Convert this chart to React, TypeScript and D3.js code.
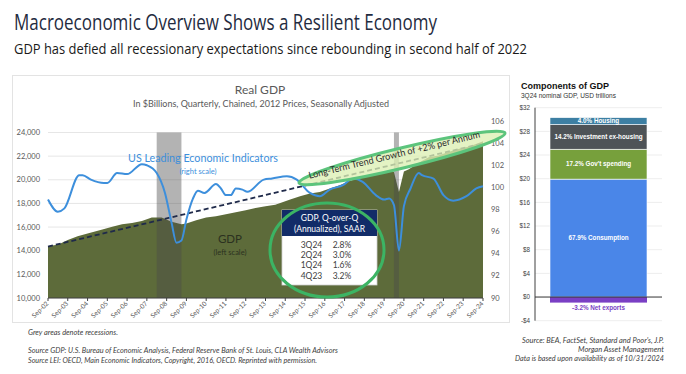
import React from "react";
import * as d3 from "d3";

// ---------- DATA ----------
const gdpDates = ["2002-09","2003-03","2003-09","2004-03","2004-09","2005-06","2005-12","2006-06","2006-12","2007-06","2007-12","2008-06","2008-12","2009-06","2009-09","2010-03","2010-09","2011-03","2011-09","2012-03","2012-09","2013-03","2013-09","2014-03","2014-06","2014-12","2015-06","2015-12","2016-06","2016-12","2017-06","2017-12","2018-06","2018-12","2019-06","2019-12","2020-03","2020-06","2020-09","2020-12","2021-06","2021-12","2022-06","2022-12","2023-06","2023-12","2024-06","2024-09"];
const gdpValues = [14400,14500,14900,15230,15460,15800,16020,16240,16350,16520,16800,16800,16440,16240,16300,16580,16810,16920,17090,17260,17430,17620,17760,17880,18040,18330,18600,18840,18970,19260,19540,19900,20150,20380,20570,20800,20650,18970,20700,20900,21450,21900,22050,22350,22600,22800,23100,23270];

const leiDates = ["2002-09","2003-03","2003-07","2004-04","2004-06","2004-11","2005-07","2005-09","2006-03","2006-09","2007-06","2007-09","2008-03","2008-08","2008-12","2009-03","2009-06","2009-09","2010-01","2010-04","2010-08","2011-03","2011-06","2011-09","2011-12","2012-03","2012-07","2012-10","2013-08","2014-01","2014-10","2015-04","2015-12","2016-06","2016-12","2017-08","2018-02","2018-08","2019-04","2019-09","2019-12","2020-03","2020-06","2020-09","2021-01","2021-06","2021-08","2022-03","2022-09","2023-03","2023-11","2024-05","2024-09"];
const leiValues = [98.9,97.8,98.1,101.1,101.1,100.7,100.4,100.4,101.3,101.2,102.1,102.0,101.3,99.5,96.8,95.0,95.2,97.1,99.0,99.7,99.5,100.3,99.9,99.3,99.3,99.9,99.8,99.6,100.7,100.8,101.0,100.7,99.5,99.2,99.8,100.2,100.8,100.5,99.3,98.9,99.0,98.4,94.3,98.3,99.9,101.3,101.1,100.8,99.3,98.8,99.2,99.9,100.1];

const trendDates = ["2002-09","2024-09"];
const trendValues = [14350, 23080];

const recessionStarts = ["2008-03","2020-03"];
const recessionEnds = ["2009-06","2020-06"];

const xTickLabels = ["Sep-02","Sep-03","Sep-04","Sep-05","Sep-06","Sep-07","Sep-08","Sep-09","Sep-10","Sep-11","Sep-12","Sep-13","Sep-14","Sep-15","Sep-16","Sep-17","Sep-18","Sep-19","Sep-20","Sep-21","Sep-22","Sep-23","Sep-24"];
const leftTicks = [10000,12000,14000,16000,18000,20000,22000,24000];
const rightTicks = [90,92,94,96,98,100,102,104,106];

const tableQuarters = ["3Q24","2Q24","1Q24","4Q23"];
const tableRates = ["2.8%","3.0%","1.6%","3.2%"];

const compLabels = ["67.9% Consumption","17.2% Gov't  spending","14.2% Investment ex-housing","4.0% Housing"];
const compValues = [19.93, 5.05, 4.17, 1.17];
const compColors = ["#4a86e8","#77a03c","#4e5357","#3d7fa3"];
const netExportsLabel = "-3.2% Net exports";
const netExportsValue = -0.94;
const compTicks = [-4,0,4,8,12,16,20,24,28,32];

// ---------- COMPONENT ----------
const parse = d3.timeParse("%Y-%m");

export default function App() {
  const x = d3.scaleTime().domain([parse("2002-09")!, parse("2024-09")!]).range([48, 483]);
  const yL = d3.scaleLinear().domain([10000, 24000]).range([298, 132.5]);
  const yR = d3.scaleLinear().domain([90, 106]).range([298, 121]);

  const gdp = gdpDates.map((d, i) => ({ d: parse(d)!, v: gdpValues[i] }));
  const lei = leiDates.map((d, i) => ({ d: parse(d)!, v: leiValues[i] }));
  const trend = trendDates.map((d, i) => ({ d: parse(d)!, v: trendValues[i] }));

  const area = d3.area<{ d: Date; v: number }>().x(p => x(p.d)).y0(yL(10000)).y1(p => yL(p.v));
  const leiLine = d3.line<{ d: Date; v: number }>().x(p => x(p.d)).y(p => yR(p.v)).curve(d3.curveMonotoneX);
  const trendLine = d3.line<{ d: Date; v: number }>().x(p => x(p.d)).y(p => yL(p.v));

  const xTicks = xTickLabels.map((_, i) => new Date(2002 + i, 8, 1));

  const yB = d3.scaleLinear().domain([-4, 32]).range([320.7, 107.7]);
  let cum = 0;
  const segs = compValues.map((v, i) => {
    const s = { y0: cum, y1: cum + v, label: compLabels[i], color: compColors[i] };
    cum += v;
    return s;
  });

  const fontL = "Lato, 'Open Sans', sans-serif";
  const fontR = "'Liberation Sans', Arial, sans-serif";

  return (
    <svg width={686} height={374} style={{ position: "absolute", left: 0, top: 0, background: "#fff" }}>
      {/* Titles */}
      <text x={14} y={30} fontFamily="'Open Sans', sans-serif" fontSize={21} fill="#1f2b40" textLength={423} lengthAdjust="spacingAndGlyphs">Macroeconomic Overview Shows a Resilient Economy</text>
      <text x={14} y={54} fontFamily="'Open Sans', sans-serif" fontSize={15} fill="#1a1a1a" textLength={513} lengthAdjust="spacingAndGlyphs">GDP has defied all recessionary expectations since rebounding in second half of 2022</text>

      {/* Left panel border */}
      <rect x={12.5} y={75.5} width={497} height={247} fill="none" stroke="#e3e3e3" strokeWidth={1} />

      <text x={260} y={94} textAnchor="middle" fontFamily={fontL} fontSize={12} fill="#595959">Real GDP</text>
      <text x={261} y={107} textAnchor="middle" fontFamily={fontL} fontSize={9} fill="#595959">In $Billions, Quarterly, Chained, 2012 Prices, Seasonally Adjusted</text>

      {/* Gridlines */}
      {leftTicks.map(t => (
        <line key={t} x1={48} x2={483} y1={yL(t)} y2={yL(t)} stroke="#e6e6e6" strokeWidth={1} />
      ))}

      {/* GDP area */}
      <path d={area(gdp)!} fill="#5d6b3a" />

      {/* Recession bands */}
      {recessionStarts.map((s, i) => (
        <rect key={s} x={x(parse(s)!)} y={yL(24000)} width={x(parse(recessionEnds[i])!) - x(parse(s)!)} height={yL(10000) - yL(24000)} fill="#4b4b4b" opacity={0.42} />
      ))}

      {/* Trend dashed */}
      <path d={trendLine(trend)!} fill="none" stroke="#1f2a4a" strokeWidth={1.8} strokeDasharray="5,3" />

      {/* LEI line */}
      <path d={leiLine(lei)!} fill="none" stroke="#3d8fdc" strokeWidth={2} />

      {/* Left axis labels */}
      {leftTicks.map(t => (
        <text key={t} x={40} y={yL(t) + 2.5} textAnchor="end" fontFamily={fontL} fontSize={7.5} fill="#595959">{d3.format(",")(t)}</text>
      ))}
      {/* Right axis labels */}
      {rightTicks.map(t => (
        <text key={t} x={491} y={yR(t) + 2.5} fontFamily={fontL} fontSize={7.5} fill="#595959">{t}</text>
      ))}

      {/* X axis */}
      <line x1={48} x2={483} y1={298} y2={298} stroke="#404040" strokeWidth={1} />
      {xTicks.map((d, i) => (
        <g key={i}>
          <line x1={x(d)} x2={x(d)} y1={298} y2={301} stroke="#404040" strokeWidth={1} />
          <text transform={`translate(${x(d) + 1},${304}) rotate(-45)`} textAnchor="end" fontFamily={fontL} fontSize={6.5} fill="#595959">{xTickLabels[i]}</text>
        </g>
      ))}

      {/* Series labels */}
      <text x={203} y={162} textAnchor="middle" fontFamily={fontL} fontSize={11} fill="#3d8fdc" textLength={150} lengthAdjust="spacingAndGlyphs">US Leading Economic Indicators</text>
      <text x={198} y={173.5} textAnchor="middle" fontFamily={fontL} fontSize={7.5} fill="#3d8fdc">(right scale)</text>
      <text x={230} y={243} textAnchor="middle" fontFamily={fontL} fontSize={11.5} fill="#2b3120">GDP</text>
      <text x={230} y={254.5} textAnchor="middle" fontFamily={fontL} fontSize={7.5} fill="#2b3120">(left scale)</text>

      {/* Trend annotation ellipse */}
      <g transform="translate(402,158) rotate(-13.6)">
        <ellipse cx={0} cy={0} rx={106} ry={10} fill="#dcefb4" fillOpacity={0.78} stroke="#5cc47c" strokeWidth={3} />
      </g>
      <text transform="translate(395,158) rotate(-13.6)" textAnchor="middle" fontFamily={fontL} fontSize={9.5} fill="#2a2a2a" textLength={176} lengthAdjust="spacingAndGlyphs">Long-Term Trend Growth of +2% per Annum</text>

      {/* Table */}
      <rect x={282} y={210} width={95} height={75} fill="#ffffff" stroke="#d0d0d0" strokeWidth={0.8} />
      <rect x={282} y={210} width={95} height={26} fill="#122c68" />
      <text x={329.5} y={221} textAnchor="middle" fontFamily={fontL} fontSize={8.5} fill="#ffffff">GDP, Q-over-Q</text>
      <text x={329.5} y={232} textAnchor="middle" fontFamily={fontL} fontSize={8.5} fill="#ffffff">(Annualized), SAAR</text>
      {tableQuarters.map((q, i) => (
        <g key={q}>
          <text x={311.5} y={248 + i * 10.2} textAnchor="middle" fontFamily={fontL} fontSize={8.5} fill="#404040">{q}</text>
          <text x={342} y={248 + i * 10.2} textAnchor="middle" fontFamily={fontL} fontSize={8.5} fill="#404040">{tableRates[i]}</text>
        </g>
      ))}
      <ellipse cx={327} cy={250} rx={57} ry={47} fill="none" stroke="#3cb464" strokeWidth={3} />

      {/* Left footnotes */}
      <text x={28} y={335} fontFamily={fontL} fontStyle="italic" fontSize={7.5} fill="#404040" textLength={90} lengthAdjust="spacingAndGlyphs">Grey areas denote recessions.</text>
      <text x={28} y={353} fontFamily={fontL} fontStyle="italic" fontSize={6.8} fill="#404040" textLength={310} lengthAdjust="spacingAndGlyphs">Source GDP: U.S. Bureau of Economic Analysis, Federal Reserve Bank of St. Louis, CLA Wealth Advisors</text>
      <text x={28} y={363} fontFamily={fontL} fontStyle="italic" fontSize={6.8} fill="#404040" textLength={289} lengthAdjust="spacingAndGlyphs">Source LEI: OECD, Main Economic Indicators, Copyright, 2016, OECD. Reprinted with permission.</text>

      {/* Right chart */}
      <text x={521} y={89} fontFamily={fontR} fontWeight="bold" fontSize={9} fill="#111">Components of GDP</text>
      <text x={521} y={98} fontFamily={fontR} fontSize={6.5} fill="#333">3Q24 nominal GDP, USD trillions</text>
      {compTicks.map(t => (
        <g key={t}>
          {t !== 0 && <line x1={535} x2={662} y1={yB(t)} y2={yB(t)} stroke="#e8e8e8" strokeWidth={0.8} />}
          <text x={530} y={yB(t) + 2.2} textAnchor="end" fontFamily={fontR} fontSize={6.3} fill="#404040">{t < 0 ? `-$${-t}` : `$${t}`}</text>
        </g>
      ))}
      {segs.map((s, i) => (
        <g key={i}>
          <rect x={550} y={yB(s.y1)} width={97} height={yB(s.y0) - yB(s.y1)} fill={s.color} stroke="#ffffff" strokeWidth={0.6} />
          <text x={598.5} y={(yB(s.y0) + yB(s.y1)) / 2 + 2.3} textAnchor="middle" fontFamily={fontR} fontWeight="bold" fontSize={6.3} fill="#ffffff">{s.label}</text>
        </g>
      ))}
      <rect x={550} y={yB(0)} width={97} height={yB(netExportsValue) - yB(0)} fill="#7a3fc4" />
      <text x={598.5} y={309.5} textAnchor="middle" fontFamily={fontR} fontWeight="bold" fontSize={6.3} fill="#7a3fc4">{netExportsLabel}</text>
      <line x1={535} x2={535} y1={yB(32)} y2={yB(-4)} stroke="#404040" strokeWidth={1} />
      <line x1={535} x2={662} y1={yB(0)} y2={yB(0)} stroke="#333" strokeWidth={1} />

      {/* Right footnotes */}
      <text x={664} y={343} textAnchor="end" fontFamily={fontL} fontStyle="italic" fontSize={7.5} fill="#404040" textLength={142} lengthAdjust="spacingAndGlyphs">Source:  BEA, FactSet, Standard and Poor's, J.P.</text>
      <text x={664} y={352} textAnchor="end" fontFamily={fontL} fontStyle="italic" fontSize={7.5} fill="#404040" textLength={86} lengthAdjust="spacingAndGlyphs">Morgan Asset Management</text>
      <text x={664} y={361} textAnchor="end" fontFamily={fontL} fontStyle="italic" fontSize={7.5} fill="#404040" textLength={149} lengthAdjust="spacingAndGlyphs">Data is based upon availability as of 10/31/2024</text>
    </svg>
  );
}
